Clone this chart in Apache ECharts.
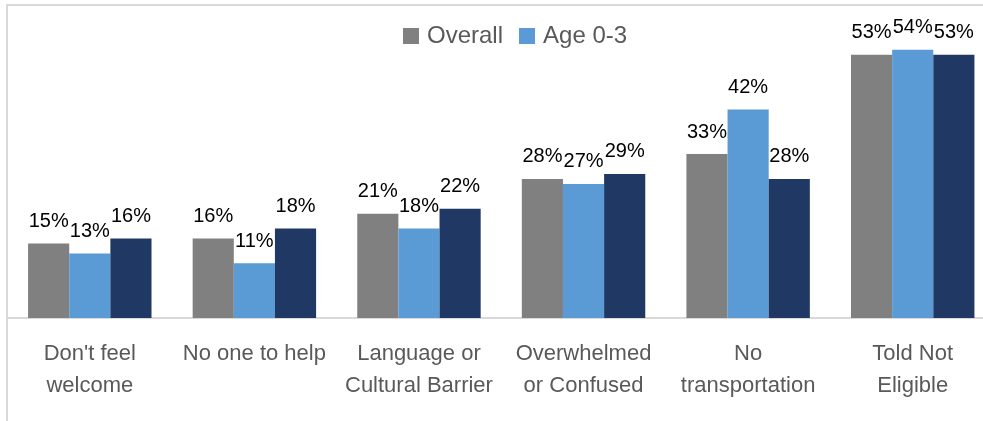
<!DOCTYPE html>
<html>
<head>
<meta charset="utf-8">
<script src="https://cdn.jsdelivr.net/npm/echarts@6/dist/echarts.min.js"></script>
<style>
  html, body { margin: 0; padding: 0; background: #fff; overflow: hidden; }
  #chart { width: 995px; height: 421px; }
</style>
</head>
<body>
<div id="chart"></div>
<script>
const categories = [
  "Don't feel\nwelcome",
  "No one to help",
  "Language or\nCultural Barrier",
  "Overwhelmed\nor Confused",
  "No\ntransportation",
  "Told Not\nEligible"
];
const overall = [15, 16, 21, 28, 33, 53];
const age03 = [13, 11, 18, 27, 42, 54];
const age45 = [16, 18, 22, 29, 28, 53];

const font = "'Liberation Sans Narrow', 'Arial Narrow', 'Liberation Sans', Arial, sans-serif";

// chart is a bit wider than the window, the right edge is cut off like the source
const chart = echarts.init(document.getElementById("chart"));

function barSeries(name, data, color) {
  return {
    name: name,
    type: "bar",
    data: data,
    barGap: "0%",
    barCategoryGap: "25%",
    itemStyle: { color: color },
    label: {
      show: true,
      position: "top",
      distance: 12,
      formatter: "{c}%",
      color: "#000",
      fontFamily: font,
      fontSize: 20
    },
    animation: false
  };
}

chart.setOption({
  backgroundColor: "#fff",
  textStyle: { fontFamily: font },
  graphic: [
    {
      type: "line",
      shape: { x1: 6, y1: 5, x2: 995, y2: 5 },
      style: { stroke: "#d9d9d9", lineWidth: 2 }
    },
    {
      type: "line",
      shape: { x1: 7, y1: 4, x2: 7, y2: 421 },
      style: { stroke: "#d9d9d9", lineWidth: 2 }
    }
  ],
  legend: {
    data: ["Overall", "Age 0-3"],
    left: 398,
    top: 19,
    itemWidth: 16,
    itemHeight: 16,
    itemGap: 16,
    icon: "rect",
    textStyle: {
      color: "#595959",
      fontFamily: font,
      fontSize: 24,
      padding: [0, 0, 0, 3]
    }
  },
  grid: {
    left: 7.5,
    right: 0,
    top: 20,
    bottom: 103,
    containLabel: false
  },
  xAxis: {
    type: "category",
    data: categories,
    axisTick: { show: false },
    axisLine: { lineStyle: { color: "#d9d9d9", width: 2 } },
    axisLabel: {
      color: "#595959",
      fontFamily: font,
      fontSize: 22,
      lineHeight: 32,
      margin: 20,
      interval: 0
    }
  },
  yAxis: {
    type: "value",
    min: 0,
    max: 60,
    show: false,
    splitLine: { show: false }
  },
  series: [
    barSeries("Overall", overall, "#808080"),
    barSeries("Age 0-3", age03, "#5b9bd5"),
    barSeries("Age 4-5", age45, "#203864")
  ]
});
</script>
</body>
</html>
